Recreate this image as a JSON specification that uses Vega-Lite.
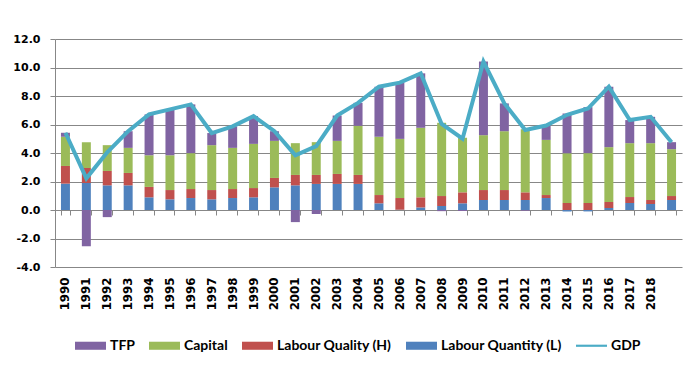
{
  "$schema": "https://vega.github.io/schema/vega-lite/v6.json",
  "width": 627,
  "height": 228,
  "autosize": "none",
  "padding": {"left": 55, "top": 39, "right": 16, "bottom": 123},
  "background": "white",
  "datasets": {
    "contrib": [
      {"year": "1990", "component": "Labour Quantity (L)", "value": 1.85}, {"year": "1990", "component": "Labour Quality (H)", "value": 1.24}, {"year": "1990", "component": "Capital", "value": 2.05}, {"year": "1990", "component": "TFP", "value": 0.28},
      {"year": "1991", "component": "Labour Quantity (L)", "value": 1.90}, {"year": "1991", "component": "Labour Quality (H)", "value": 1.05}, {"year": "1991", "component": "Capital", "value": 1.81}, {"year": "1991", "component": "TFP", "value": -2.54},
      {"year": "1992", "component": "Labour Quantity (L)", "value": 1.73}, {"year": "1992", "component": "Labour Quality (H)", "value": 1.01}, {"year": "1992", "component": "Capital", "value": 1.81}, {"year": "1992", "component": "TFP", "value": -0.50},
      {"year": "1993", "component": "Labour Quantity (L)", "value": 1.73}, {"year": "1993", "component": "Labour Quality (H)", "value": 0.87}, {"year": "1993", "component": "Capital", "value": 1.76}, {"year": "1993", "component": "TFP", "value": 1.17},
      {"year": "1994", "component": "Labour Quantity (L)", "value": 0.89}, {"year": "1994", "component": "Labour Quality (H)", "value": 0.73}, {"year": "1994", "component": "Capital", "value": 2.22}, {"year": "1994", "component": "TFP", "value": 2.87},
      {"year": "1995", "component": "Labour Quantity (L)", "value": 0.75}, {"year": "1995", "component": "Labour Quality (H)", "value": 0.65}, {"year": "1995", "component": "Capital", "value": 2.44}, {"year": "1995", "component": "TFP", "value": 3.22},
      {"year": "1996", "component": "Labour Quantity (L)", "value": 0.84}, {"year": "1996", "component": "Labour Quality (H)", "value": 0.63}, {"year": "1996", "component": "Capital", "value": 2.52}, {"year": "1996", "component": "TFP", "value": 3.42},
      {"year": "1997", "component": "Labour Quantity (L)", "value": 0.75}, {"year": "1997", "component": "Labour Quality (H)", "value": 0.65}, {"year": "1997", "component": "Capital", "value": 3.15}, {"year": "1997", "component": "TFP", "value": 0.85},
      {"year": "1998", "component": "Labour Quantity (L)", "value": 0.84}, {"year": "1998", "component": "Labour Quality (H)", "value": 0.63}, {"year": "1998", "component": "Capital", "value": 2.89}, {"year": "1998", "component": "TFP", "value": 1.51},
      {"year": "1999", "component": "Labour Quantity (L)", "value": 0.89}, {"year": "1999", "component": "Labour Quality (H)", "value": 0.65}, {"year": "1999", "component": "Capital", "value": 3.10}, {"year": "1999", "component": "TFP", "value": 1.95},
      {"year": "2000", "component": "Labour Quantity (L)", "value": 1.59}, {"year": "2000", "component": "Labour Quality (H)", "value": 0.66}, {"year": "2000", "component": "Capital", "value": 2.60}, {"year": "2000", "component": "TFP", "value": 0.68},
      {"year": "2001", "component": "Labour Quantity (L)", "value": 1.73}, {"year": "2001", "component": "Labour Quality (H)", "value": 0.73}, {"year": "2001", "component": "Capital", "value": 2.23}, {"year": "2001", "component": "TFP", "value": -0.85},
      {"year": "2002", "component": "Labour Quantity (L)", "value": 1.83}, {"year": "2002", "component": "Labour Quality (H)", "value": 0.63}, {"year": "2002", "component": "Capital", "value": 2.30}, {"year": "2002", "component": "TFP", "value": -0.28},
      {"year": "2003", "component": "Labour Quantity (L)", "value": 1.83}, {"year": "2003", "component": "Labour Quality (H)", "value": 0.70}, {"year": "2003", "component": "Capital", "value": 2.32}, {"year": "2003", "component": "TFP", "value": 1.78},
      {"year": "2004", "component": "Labour Quantity (L)", "value": 1.83}, {"year": "2004", "component": "Labour Quality (H)", "value": 0.63}, {"year": "2004", "component": "Capital", "value": 3.45}, {"year": "2004", "component": "TFP", "value": 1.61},
      {"year": "2005", "component": "Labour Quantity (L)", "value": 0.47}, {"year": "2005", "component": "Labour Quality (H)", "value": 0.58}, {"year": "2005", "component": "Capital", "value": 4.09}, {"year": "2005", "component": "TFP", "value": 3.51},
      {"year": "2006", "component": "Labour Quantity (L)", "value": 0.02}, {"year": "2006", "component": "Labour Quality (H)", "value": 0.82}, {"year": "2006", "component": "Capital", "value": 4.15}, {"year": "2006", "component": "TFP", "value": 3.95},
      {"year": "2007", "component": "Labour Quantity (L)", "value": 0.18}, {"year": "2007", "component": "Labour Quality (H)", "value": 0.71}, {"year": "2007", "component": "Capital", "value": 4.88}, {"year": "2007", "component": "TFP", "value": 3.82},
      {"year": "2008", "component": "Labour Quantity (L)", "value": 0.28}, {"year": "2008", "component": "Labour Quality (H)", "value": 0.70}, {"year": "2008", "component": "Capital", "value": 5.14}, {"year": "2008", "component": "TFP", "value": -0.08},
      {"year": "2009", "component": "Labour Quantity (L)", "value": 0.47}, {"year": "2009", "component": "Labour Quality (H)", "value": 0.77}, {"year": "2009", "component": "Capital", "value": 3.83}, {"year": "2009", "component": "TFP", "value": -0.07},
      {"year": "2010", "component": "Labour Quantity (L)", "value": 0.70}, {"year": "2010", "component": "Labour Quality (H)", "value": 0.70}, {"year": "2010", "component": "Capital", "value": 3.85}, {"year": "2010", "component": "TFP", "value": 5.17},
      {"year": "2011", "component": "Labour Quantity (L)", "value": 0.70}, {"year": "2011", "component": "Labour Quality (H)", "value": 0.70}, {"year": "2011", "component": "Capital", "value": 4.13}, {"year": "2011", "component": "TFP", "value": 1.95},
      {"year": "2012", "component": "Labour Quantity (L)", "value": 0.70}, {"year": "2012", "component": "Labour Quality (H)", "value": 0.54}, {"year": "2012", "component": "Capital", "value": 4.43}, {"year": "2012", "component": "TFP", "value": -0.05},
      {"year": "2013", "component": "Labour Quantity (L)", "value": 0.84}, {"year": "2013", "component": "Labour Quality (H)", "value": 0.21}, {"year": "2013", "component": "Capital", "value": 3.87}, {"year": "2013", "component": "TFP", "value": 1.01},
      {"year": "2014", "component": "Labour Quantity (L)", "value": -0.10}, {"year": "2014", "component": "Labour Quality (H)", "value": 0.49}, {"year": "2014", "component": "Capital", "value": 3.50}, {"year": "2014", "component": "TFP", "value": 2.79},
      {"year": "2015", "component": "Labour Quantity (L)", "value": -0.10}, {"year": "2015", "component": "Labour Quality (H)", "value": 0.49}, {"year": "2015", "component": "Capital", "value": 3.50}, {"year": "2015", "component": "TFP", "value": 3.23},
      {"year": "2016", "component": "Labour Quantity (L)", "value": 0.14}, {"year": "2016", "component": "Labour Quality (H)", "value": 0.42}, {"year": "2016", "component": "Capital", "value": 3.85}, {"year": "2016", "component": "TFP", "value": 4.24},
      {"year": "2017", "component": "Labour Quantity (L)", "value": 0.49}, {"year": "2017", "component": "Labour Quality (H)", "value": 0.42}, {"year": "2017", "component": "Capital", "value": 3.78}, {"year": "2017", "component": "TFP", "value": 1.62},
      {"year": "2018", "component": "Labour Quantity (L)", "value": 0.42}, {"year": "2018", "component": "Labour Quality (H)", "value": 0.28}, {"year": "2018", "component": "Capital", "value": 3.99}, {"year": "2018", "component": "TFP", "value": 1.85},
      {"year": "2019", "component": "Labour Quantity (L)", "value": 0.70}, {"year": "2019", "component": "Labour Quality (H)", "value": 0.28}, {"year": "2019", "component": "Capital", "value": 3.29}, {"year": "2019", "component": "TFP", "value": 0.49}
    ],
    "gdp": [
      {"year": "1990", "gdp": 5.42}, {"year": "1991", "gdp": 2.22}, {"year": "1992", "gdp": 4.05}, {"year": "1993", "gdp": 5.53},
      {"year": "1994", "gdp": 6.71}, {"year": "1995", "gdp": 7.06}, {"year": "1996", "gdp": 7.41}, {"year": "1997", "gdp": 5.40},
      {"year": "1998", "gdp": 5.87}, {"year": "1999", "gdp": 6.59}, {"year": "2000", "gdp": 5.53}, {"year": "2001", "gdp": 3.84},
      {"year": "2002", "gdp": 4.48}, {"year": "2003", "gdp": 6.63}, {"year": "2004", "gdp": 7.52}, {"year": "2005", "gdp": 8.65},
      {"year": "2006", "gdp": 8.94}, {"year": "2007", "gdp": 9.59}, {"year": "2008", "gdp": 6.04}, {"year": "2009", "gdp": 5.00},
      {"year": "2010", "gdp": 10.42}, {"year": "2011", "gdp": 7.48}, {"year": "2012", "gdp": 5.62}, {"year": "2013", "gdp": 5.93},
      {"year": "2014", "gdp": 6.68}, {"year": "2015", "gdp": 7.12}, {"year": "2016", "gdp": 8.65}, {"year": "2017", "gdp": 6.31},
      {"year": "2018", "gdp": 6.54}, {"year": "2019", "gdp": 4.76}
    ]
  },
  "layer": [
    {
      "data": {"name": "contrib"},
      "transform": [
        {"calculate": "indexof(['Labour Quantity (L)','Labour Quality (H)','Capital','TFP'], datum.component)", "as": "stackOrder"}
      ],
      "mark": {"type": "bar"},
      "encoding": {
        "x": {
          "field": "year", "type": "nominal",
          "scale": {"paddingInner": 0.57, "paddingOuter": 0.285},
          "axis": {
            "orient": "bottom", "title": null, "domain": false, "ticks": false, "grid": false,
            "labelAngle": -90, "labelPadding": 10, "labelFontSize": 11.8,
            "labelExpr": "datum.value == '2019' ? '' : datum.value"
          }
        },
        "y": {
          "field": "value", "type": "quantitative", "aggregate": "sum", "stack": "zero",
          "scale": {"domain": [-4, 12], "nice": false, "zero": false},
          "axis": {
            "title": null, "values": [-4, -2, 0, 2, 4, 6, 8, 10, 12],
            "labelExpr": "replace(format(datum.value, '.1f'), '−', '-')",
            "labelOverlap": false, "labelFontSize": 11,
            "grid": true, "gridColor": "#878787", "gridWidth": 1, "gridOpacity": 1,
            "domain": true, "domainColor": "#878787", "ticks": true, "tickColor": "#878787",
            "tickSize": 5, "labelPadding": 10
          }
        },
        "color": {
          "field": "component", "type": "nominal",
          "scale": {
            "domain": ["TFP", "Capital", "Labour Quality (H)", "Labour Quantity (L)", "GDP"],
            "range": ["#8064A2", "#9BBB59", "#C0504D", "#4F81BD", "#4BACC6"]
          },
          "legend": {
            "title": null, "orient": "none", "direction": "horizontal", "columns": 5,
            "legendX": 20, "legendY": 291,
            "symbolType": "M-1,-0.26H1V0.26H-1Z", "symbolSize": 961, "symbolStrokeWidth": 0,
            "labelFont": "Lato", "labelFontWeight": "bold", "labelFontSize": 14, "labelColor": "#000000",
            "labelOffset": 4, "columnPadding": 14, "labelLimit": 250,
            "encode": {
              "symbols": {
                "update": {
                  "shape": {"signal": "datum.value === 'GDP' ? 'M-1,-0.07H1V0.07H-1Z' : 'M-1,-0.26H1V0.26H-1Z'"},
                  "fill": {"scale": "color", "field": "value"},
                  "strokeWidth": {"value": 0},
                  "opacity": {"value": 1}
                }
              }
            }
          }
        },
        "order": {"field": "stackOrder", "type": "quantitative"}
      }
    },
    {
      "data": {"name": "gdp"},
      "mark": {"type": "line", "strokeWidth": 4, "strokeJoin": "miter"},
      "encoding": {
        "x": {
          "field": "year", "type": "nominal",
          "axis": {
            "orient": "bottom", "offset": -57, "title": null, "labels": false, "grid": false,
            "domain": true, "domainColor": "#878787", "ticks": true, "tickColor": "#878787",
            "tickSize": 5, "tickBand": "extent"
          }
        },
        "y": {
          "field": "gdp", "type": "quantitative",
          "axis": {
            "title": null, "values": [-4, -2, 0, 2, 4, 6, 8, 10, 12],
            "labelExpr": "replace(format(datum.value, '.1f'), '−', '-')",
            "labelOverlap": false, "labelFontSize": 11,
            "grid": true, "gridColor": "#878787", "gridWidth": 1, "gridOpacity": 1,
            "domain": true, "domainColor": "#878787", "ticks": true, "tickColor": "#878787",
            "tickSize": 5, "labelPadding": 10
          }
        },
        "color": {"datum": "GDP"}
      }
    }
  ],
  "resolve": {"axis": {"x": "independent"}},
  "config": {
    "view": {"stroke": null},
    "axis": {
      "labelFont": "DejaVu Sans", "labelFontWeight": "bold", "labelFontSize": 11.5, "labelColor": "#000000"
    }
  }
}
